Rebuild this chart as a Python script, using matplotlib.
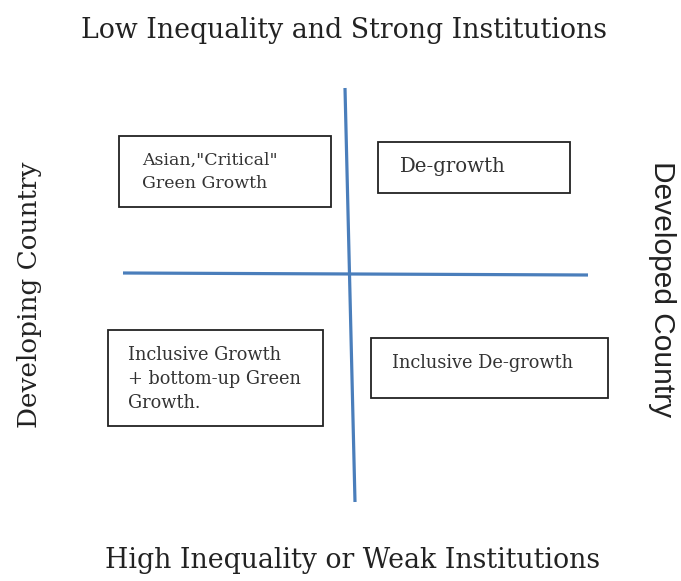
import matplotlib
matplotlib.use('Agg')
import matplotlib.pyplot as plt
from matplotlib.patches import Rectangle

# axis labels of the quadrant diagram
top_label = "Low Inequality and Strong Institutions"
bottom_label = "High Inequality or Weak Institutions"
left_label = "Developing Country"
right_label = "Developed Country"

# quadrant texts: top-left, top-right, bottom-left, bottom-right
box_texts = [
    'Asian,"Critical"\nGreen Growth',
    "De-growth",
    "Inclusive Growth\n+ bottom-up Green\nGrowth.",
    "Inclusive De-growth",
]

# box frames in pixel coordinates (x0, y0, x1, y1), text anchor and size
box_frames = [(119, 136, 331, 207), (378, 142, 570, 193),
              (108, 330, 323, 426), (371, 338, 608, 398)]
text_anchor = [(142, 172), (400, 167), (128, 379), (392, 363)]
text_size = [12.5, 14.2, 12.8, 12.8]

fig = plt.figure(figsize=(6.81, 5.81), dpi=100)
ax = fig.add_axes([0, 0, 1, 1])
ax.set_xlim(0, 681)
ax.set_ylim(581, 0)
ax.axis('off')

serif = 'DejaVu Serif'
line_col = '#4a7ebb'

# the two axes of the diagram
ax.plot([345, 355], [88, 502], color=line_col, lw=2.3, solid_capstyle='butt')
ax.plot([123, 588], [273, 275], color=line_col, lw=2.3, solid_capstyle='butt')

for (x0, y0, x1, y1), (tx, ty), fs, txt in zip(box_frames, text_anchor,
                                               text_size, box_texts):
    ax.add_patch(Rectangle((x0, y0), x1 - x0, y1 - y0, fill=False,
                           edgecolor='#222222', lw=1.3))
    ax.text(tx, ty, txt, family=serif, fontsize=fs, color='#333333',
            ha='left', va='center', linespacing=1.42)

ax.text(344, 30, top_label, family=serif, fontsize=19.3, color='#222222',
        ha='center', va='center')
ax.text(353, 560, bottom_label, family=serif, fontsize=19.3, color='#222222',
        ha='center', va='center')
ax.text(30, 295, left_label, family=serif, fontsize=18.9, color='#222222',
        ha='center', va='center', rotation=90)
ax.text(662, 289, right_label, family='Liberation Sans', fontsize=21.5,
        color='#222222', ha='center', va='center', rotation=-90)

fig.savefig('out.png', dpi=100)
